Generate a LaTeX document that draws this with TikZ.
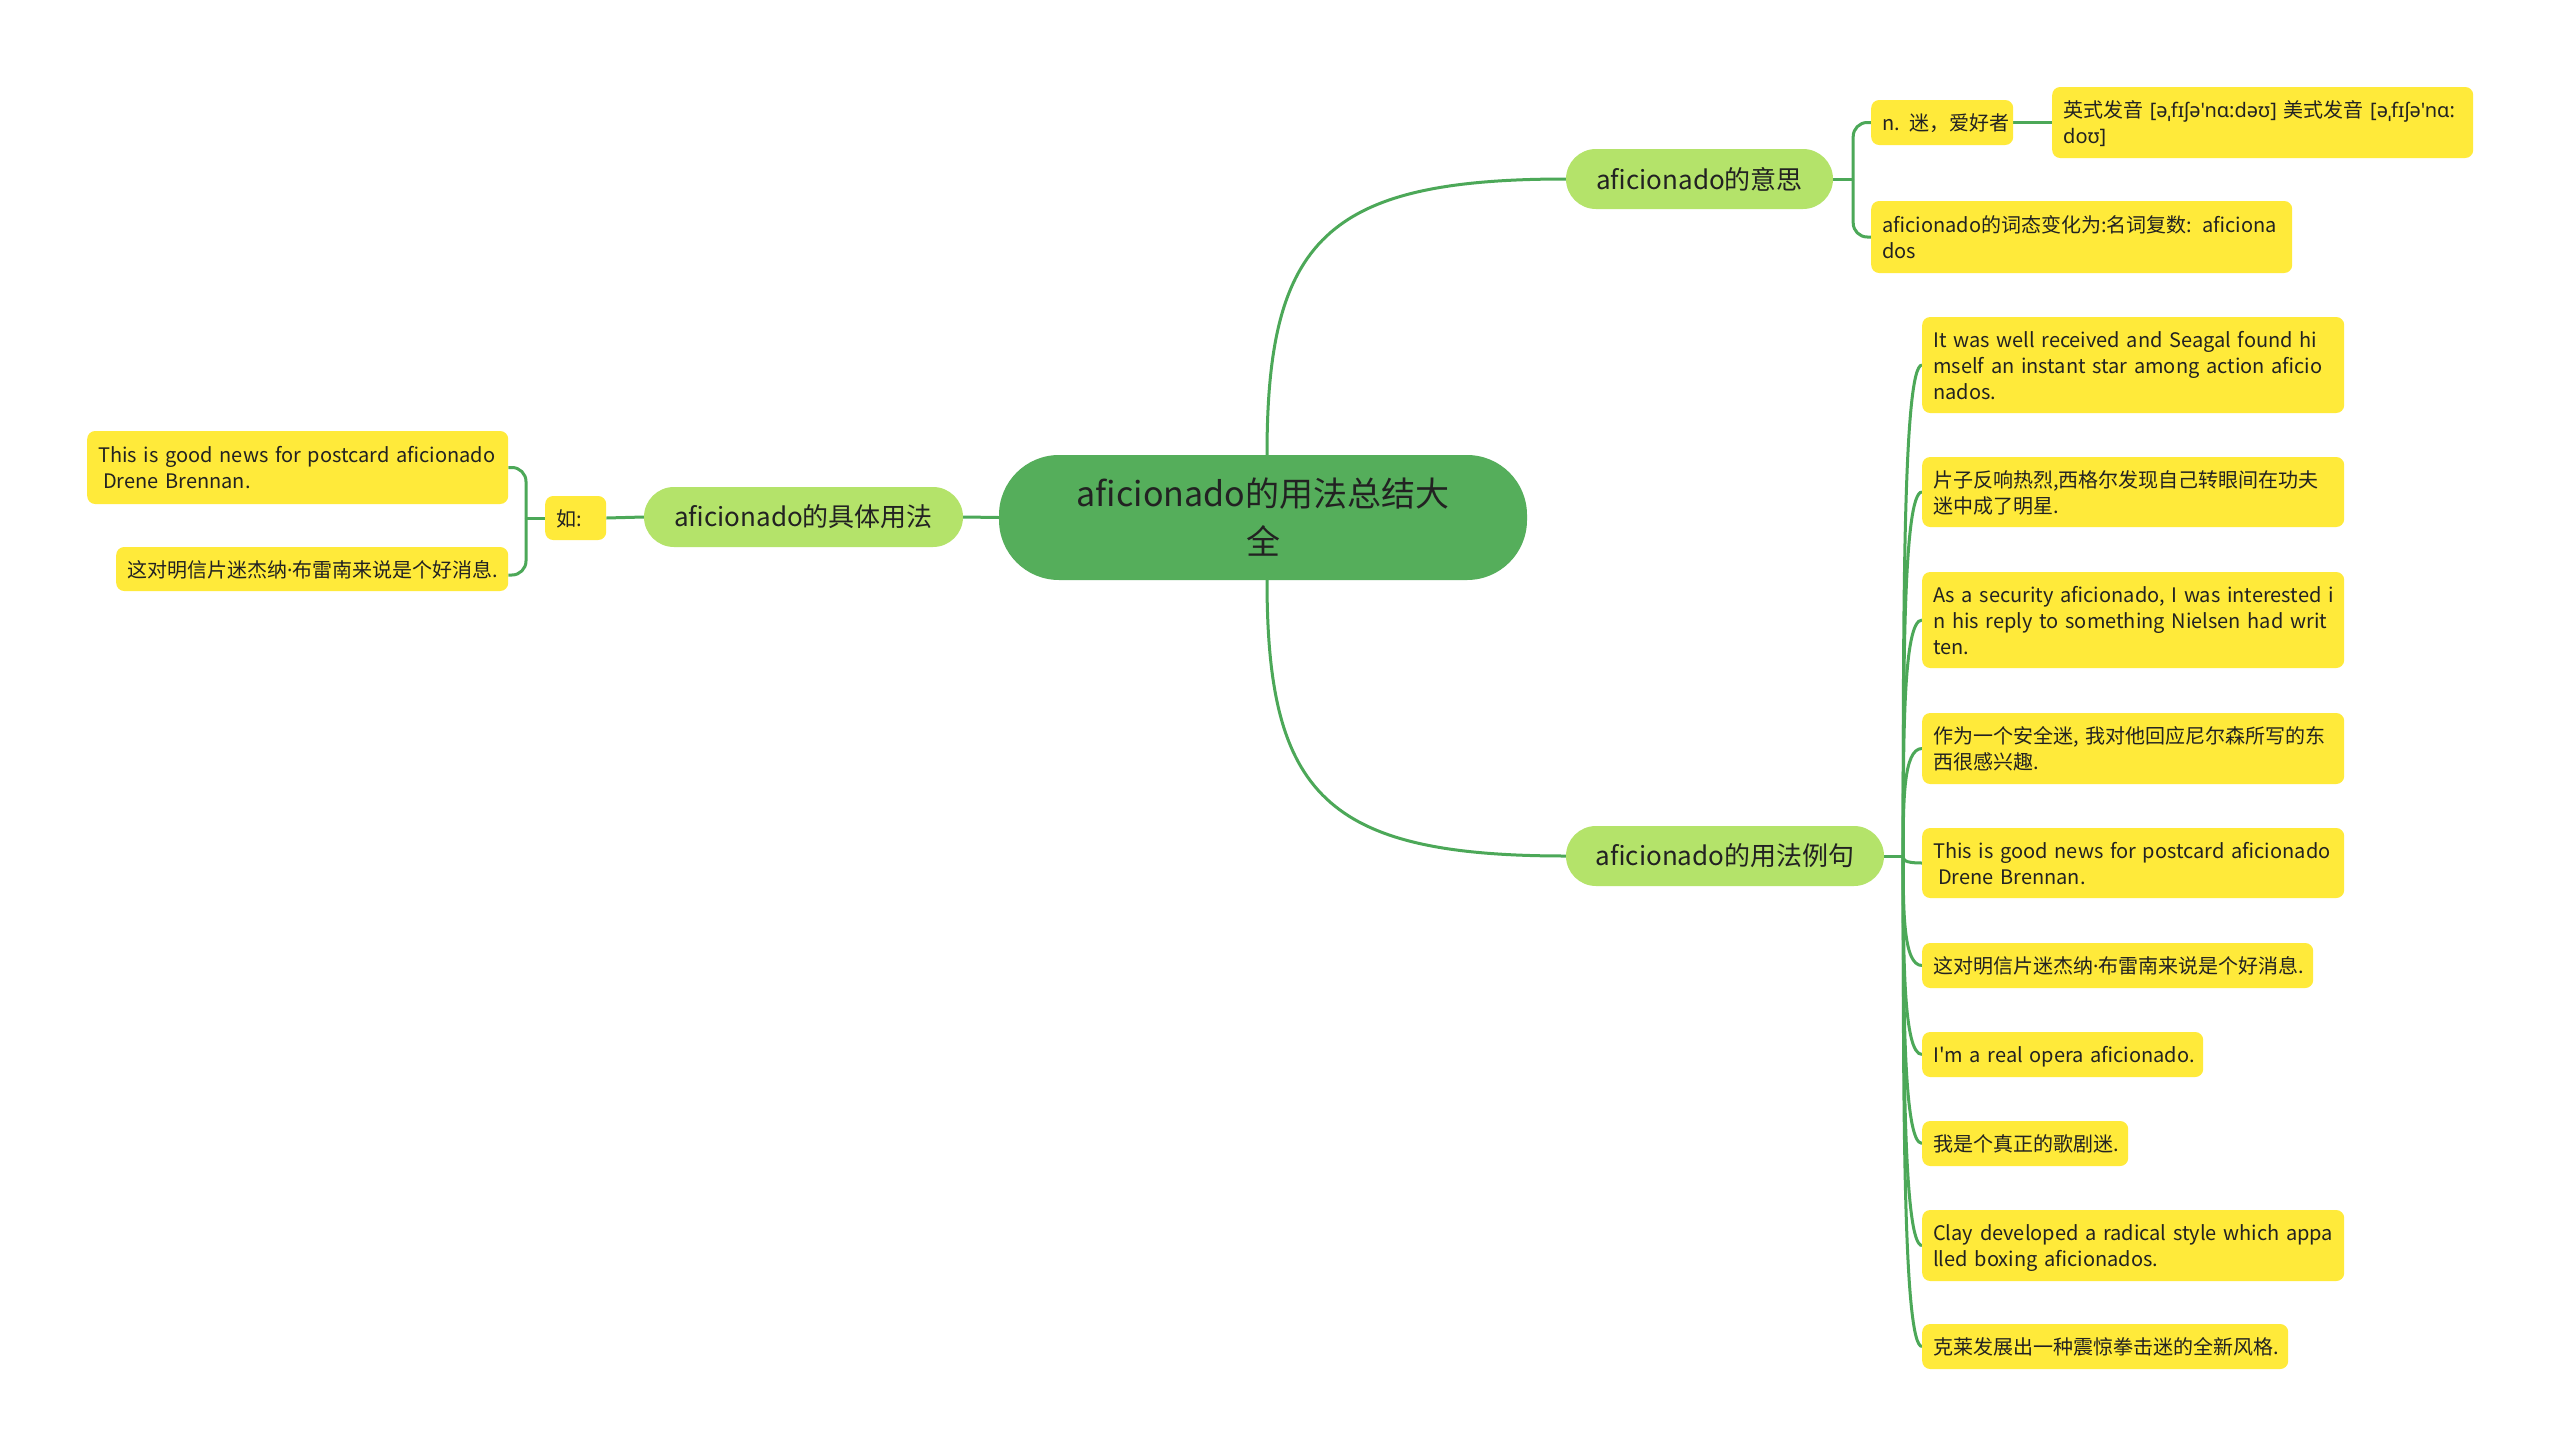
\documentclass[tikz,border=0pt]{standalone}
\usepackage{fontspec}
\newfontfamily\cjk{Noto Sans CJK SC}
\newfontfamily\ipafont{Noto Sans}
\usetikzlibrary{calc}
\definecolor{rootgreen}{HTML}{55AE5B}
\definecolor{lvlgreen}{HTML}{B4E36A}
\definecolor{leafyellow}{HTML}{FFEA3A}
\definecolor{edgegreen}{HTML}{4CA858}
\definecolor{txt}{HTML}{222222}
\newcommand\mdot{{\ipafont ·}}
\newcommand\leaflines[1]{\raisebox{-3pt}[\height][\depth]{\begin{tabular}{@{}l@{}}#1\end{tabular}}}
\pgfdeclarelayer{bg}
\pgfsetlayers{bg,main}
\begin{document}
\begin{tikzpicture}[x=1pt,y=-1pt,
  rootnode/.style={fill=rootgreen, rounded corners=60pt, minimum width=528pt, minimum height=125pt, align=center, font=\cjk\fontsize{34}{48}\selectfont, text=txt, inner sep=0pt},
  lvlnode/.style={fill=lvlgreen, rounded corners=30pt, minimum height=60pt, inner sep=0pt, font=\cjk\fontsize{26}{32}\selectfont, text=txt},
  leaf/.style 2 args={fill=leafyellow, rounded corners=8pt, anchor=west, align=left, inner xsep=11pt, inner ysep=0pt, font=\cjk\fontsize{20}{26}\selectfont, text=txt, text width=#1, minimum height=#2},
  conn/.style={draw=edgegreen, line width=3pt},
]
\useasboundingbox (0,0) rectangle (2560,1456);

% root and main topics
\node[rootnode] (root) at (1263,517.5) {aficionado的用法总结大\\全};
\node[lvlnode, minimum width=267pt] (m1) at (1699.5,179) {aficionado的意思};
\node[lvlnode, minimum width=318pt] (m2) at (1725,856) {aficionado的用法例句};
\node[lvlnode, minimum width=319pt] (m3) at (803.5,517) {aficionado的具体用法};

% meaning branch
\node[leaf={120pt}{45pt}] (n1) at (1871,122.5) {\leaflines{n. 迷，爱好者}};
\node[leaf={399pt}{71pt}] (pron) at (2052,122.5) {\leaflines{英式发音 {\ipafont[əˌfɪʃə'nɑ:dəʊ]} 美式发音 {\ipafont[əˌfɪʃə'nɑ:}\\{\ipafont doʊ]}}};
\node[leaf={399pt}{72pt}] (t2) at (1871,237) {\leaflines{aficionado的词态变化为:名词复数: aficiona\\dos}};

% usage branch (left)
\node[leaf={39pt}{44pt}] (ru) at (545,518) {\leaflines{如:}};
\node[leaf={399pt}{73pt}] (lt1) at (87,467.5) {\leaflines{This is good news for postcard aficionado\\\hspace*{5pt}Drene Brennan.}};
\node[leaf={370pt}{44pt}] (lt2) at (116,569) {\leaflines{这对明信片迷杰纳\mdot 布雷南来说是个好消息.}};

% example branch
\node[leaf={400pt}{96pt}] (e1) at (1922,365) {\leaflines{It was well received and Seagal found hi\\mself an instant star among action aficio\\nados.}};
\node[leaf={400pt}{70pt}] (e2) at (1922,492) {\leaflines{片子反响热烈,西格尔发现自己转眼间在功夫\\迷中成了明星.}};
\node[leaf={400pt}{96pt}] (e3) at (1922,620) {\leaflines{As a security aficionado, I was interested i\\n his reply to something Nielsen had writ\\ten.}};
\node[leaf={400pt}{71pt}] (e4) at (1922,748.5) {\leaflines{作为一个安全迷, 我对他回应尼尔森所写的东\\西很感兴趣.}};
\node[leaf={400pt}{70pt}] (e5) at (1922,863) {\leaflines{This is good news for postcard aficionado\\\hspace*{5pt}Drene Brennan.}};
\node[leaf={369pt}{45pt}] (e6) at (1922,965.5) {\leaflines{这对明信片迷杰纳\mdot 布雷南来说是个好消息.}};
\node[leaf={259pt}{45pt}] (e7) at (1922,1054.5) {\leaflines{I'm a real opera aficionado.}};
\node[leaf={184pt}{45pt}] (e8) at (1922,1143.5) {\leaflines{我是个真正的歌剧迷.}};
\node[leaf={400pt}{71pt}] (e9) at (1922,1245.5) {\leaflines{Clay developed a radical style which appa\\lled boxing aficionados.}};
\node[leaf={344pt}{45pt}] (e10) at (1922,1346.5) {\leaflines{克莱发展出一种震惊拳击迷的全新风格.}};

\begin{pgfonlayer}{bg}
  \fill[white] (0,0) rectangle (2560,1456);
  \draw[conn] ([xshift=4pt]root.north) .. controls ($([xshift=4pt]root.north)+(0,-215)$) and ($(m1.west)+(-240,0)$) .. (m1.west);
  \draw[conn] ([xshift=4pt]root.south) .. controls ($([xshift=4pt]root.south)+(0,215)$) and ($(m2.west)+(-240,0)$) .. (m2.west);
  \draw[conn] (root.west) -- (m3.east);
  \draw[conn] (m3.west) -- (ru.east);
  \coordinate (j3) at ($(ru.west)+(-19,0)$);
  \draw[conn] (ru.west) -- (j3);
  \draw[conn, rounded corners=14pt] (j3) |- (lt1.east);
  \draw[conn, rounded corners=14pt] (j3) |- ([yshift=-6pt]lt2.east);
  \coordinate (j1) at ($(m1.east)+(20,0)$);
  \draw[conn] (m1.east) -- (j1);
  \draw[conn, rounded corners=14pt] (j1) |- (n1.west);
  \draw[conn, rounded corners=14pt] (j1) |- (t2.west);
  \draw[conn] (n1.east) -- (pron.west);
  \coordinate (j2) at ($(m2.east)+(19,0)$);
  \draw[conn] (m2.east) -- (j2);
  \foreach \i in {1,...,10}{
    \draw[conn] (j2) .. controls ($(j2)!0.5!(j2|-e\i.west)$) and (j2|-e\i.west) .. (e\i.west);
  }
\end{pgfonlayer}
\end{tikzpicture}
\end{document}
